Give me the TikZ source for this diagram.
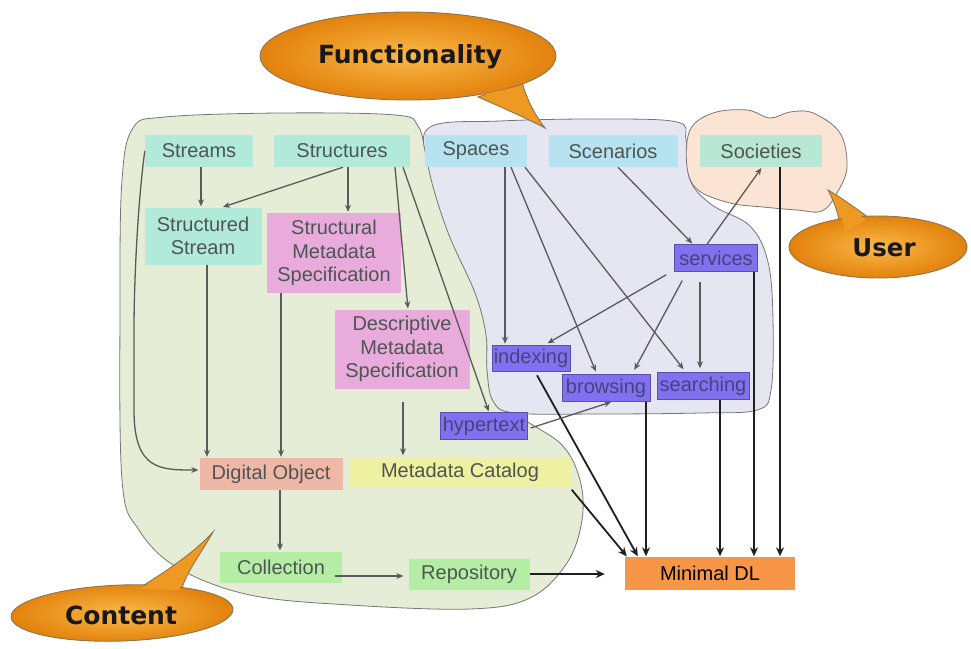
\documentclass[tikz,border=0pt]{standalone}
\usepackage{fontspec}
\setmainfont{Liberation Sans}
\newfontfamily\callfont{DejaVu Sans}
\usetikzlibrary{arrows.meta,calc}
\definecolor{greenblob}{HTML}{E5EDD6}
\definecolor{lavblob}{HTML}{E6E5F2}
\definecolor{peachblob}{HTML}{FCE4D4}
\definecolor{blobline}{HTML}{767676}
\definecolor{tealbox}{HTML}{B2EADA}
\definecolor{bluebox}{HTML}{B6E3EF}
\definecolor{socbox}{HTML}{B9E7D6}
\definecolor{pinkbox}{HTML}{E9AADC}
\definecolor{purplebox}{HTML}{8171F0}
\definecolor{salmonbox}{HTML}{EFB8A6}
\definecolor{yellowbox}{HTML}{EEF0A2}
\definecolor{greenbox}{HTML}{B4EEA4}
\definecolor{orangebox}{HTML}{F79646}
\definecolor{txtgray}{HTML}{4E5552}
\definecolor{txtpurple}{HTML}{44447A}
\definecolor{arrgray}{HTML}{5A5A5A}
\definecolor{callin}{HTML}{FBB848}
\definecolor{callout}{HTML}{E2820C}
\definecolor{calltail}{HTML}{EE9A22}
\definecolor{callline}{HTML}{8C7450}
\tikzset{
  bx/.style n args={2}{rectangle, inner sep=0pt, minimum width=#1pt, minimum height=#2pt,
    font=\fontsize{20}{23.5}\selectfont, text=txtgray, align=center},
  teal/.style={fill=tealbox},
  blue/.style={fill=bluebox},
  pink/.style={fill=pinkbox},
  purp/.style={fill=purplebox, text=txtpurple, draw=purplebox!70!black, line width=0.5pt},
  arr/.style={draw=arrgray, line width=1.3pt, -{Stealth[length=7pt,width=6pt]}, shorten >=1pt},
  barr/.style={draw=black!88, line width=1.8pt, -{Stealth[length=9pt,width=8pt]}},
  blob/.style={draw=blobline, line width=0.8pt},
  calltext/.style={font=\callfont\bfseries\fontsize{25}{29}\selectfont, text=black!90, inner sep=0pt},
  callshape/.style={inner color=callin, outer color=callout},
}
\begin{document}
\begin{tikzpicture}[x=1pt,y=-1pt]
\useasboundingbox (0,0) rectangle (971,648);
\fill[white] (0,0) rectangle (971,648);

% ---------- blobs ----------
\path[blob, fill=greenblob] plot[smooth cycle, tension=0.6] coordinates {
 (133,128) (165,117) (280,113) (395,115) (418,126) (428,160) (452,230) (484,295) (494,350)
 (498,395) (522,418) (562,445) (580,480) (582,520) (567,563) (530,598) (470,609) (350,605)
 (250,595) (178,568) (139,530) (122,480) (120,300) (122,180)};
\path[blob, fill=lavblob] plot[smooth cycle, tension=0.6] coordinates {
 (430,127) (500,121) (600,119) (677,122) (686,140) (690,180) (712,205) (750,226) (768,262)
 (773,320) (771,390) (757,410) (700,413) (600,414) (515,413) (493,401) (487,370) (486,335)
 (475,293) (447,230) (428,165)};
\path[blob, fill=peachblob] plot[smooth cycle, tension=0.6] coordinates {
 (690,130) (713,113) (747,110) (770,118) (790,112) (813,113) (840,133) (847,167) (837,193)
 (822,211) (797,210) (763,207) (730,203) (698,190) (687,167)};

% ---------- callouts ----------
% Functionality
\draw[callline, line width=0.9pt, fill=calltail] (478,97) .. controls (508,110) and (530,120) .. (545,128)
  .. controls (535,115) and (527,100) .. (522,82) -- cycle;
\shade[callshape, draw=callline, line width=0.9pt] (408,56) ellipse [x radius=148pt, y radius=44pt];
\fill[calltail] (484,94) .. controls (510,107) and (528,117) .. (540,123)
  .. controls (532,112) and (525,99) .. (521,86) -- cycle;
\node[calltext] (functxt) at (410,57) {Functionality};
% User
\draw[callline, line width=0.9pt, fill=calltail] (842,236) .. controls (840,220) and (836,205) .. (828,190)
  .. controls (845,200) and (858,210) .. (872,220) -- cycle;
\shade[callshape, draw=callline, line width=0.9pt] (878,247) ellipse [x radius=89pt, y radius=31pt];
\fill[calltail] (845,232) .. controls (843,220) and (839,207) .. (833,196)
  .. controls (846,205) and (856,212) .. (866,220) -- cycle;
\node[calltext, font=\callfont\bfseries\fontsize{24.5}{29}\selectfont] (usertxt) at (884,248) {User};
% Content
\draw[callline, line width=0.9pt, fill=calltail] (133,592) .. controls (160,575) and (192,555) .. (213,532)
  .. controls (200,555) and (186,572) .. (180,594) -- cycle;
\shade[callshape, draw=callline, line width=0.9pt] (122,613) ellipse [x radius=111pt, y radius=28pt, rotate=2];
\fill[calltail] (140,589) .. controls (165,574) and (192,557) .. (208,539)
  .. controls (196,557) and (186,572) .. (179,590) -- cycle;
\node[calltext] (conttxt) at (121,615) {Content};

% ---------- nodes ----------
\node[bx={108}{32}, teal] (streams) at (199,151) {Streams};
\node[bx={136}{32}, teal] (structures) at (342,151) {Structures};
\node[bx={102}{32}, blue] (spaces) at (476,151) {Spaces};
\node[bx={129}{32}, blue] (scenarios) at (613,151) {Scenarios};
\node[bx={122}{32}, fill=socbox] (societies) at (761,151) {Societies};
\node[bx={117}{57}, teal] (sstream) at (203,236) {Structured\\Stream};
\node[bx={134}{80}, pink] (smeta) at (334,253) {Structural\\Metadata\\Specification};
\node[bx={135}{79}, pink] (dmeta) at (402,349) {Descriptive\\Metadata\\Specification};
\node[bx={83}{27}, purp] (services) at (716,258) {services};
\node[bx={78}{26}, purp] (indexing) at (531,358) {indexing};
\node[bx={88}{27}, purp] (browsing) at (606,388) {browsing};
\node[bx={92}{27}, purp] (searching) at (703,386) {searching};
\node[bx={87}{27}, purp] (hyper) at (484,426) {hypertext};
\node[bx={143}{32}, fill=salmonbox] (dobj) at (271,474) {Digital Object};
\node[bx={221}{31}, fill=yellowbox] (mcat) at (460,472) {Metadata Catalog};
\node[bx={122}{31}, fill=greenbox] (coll) at (281,567) {Collection};
\node[bx={121}{31}, fill=greenbox] (repo) at (469,574) {Repository};
\node[bx={170}{33}, fill=orangebox, text=black] (mdl) at (710,573) {Minimal DL};

% ---------- connectors ----------
\draw[arr] (streams.south -| 201,0) -- (sstream.north -| 201,0);
\draw[arr] ([xshift=1pt]structures.south) -- ([xshift=19pt]sstream.north);
\draw[arr] (structures.south -| 348,0) -- (smeta.north -| 348,0);
\draw[arr] ([xshift=53pt]structures.south) -- (dmeta.north -| 408,0);
\draw[arr] ([xshift=61pt]structures.south) -- ([xshift=5pt]hyper.north);
\draw[arr] (streams.west) .. controls (138,200) and (134,280) .. (134,330) -- (134,410)
  .. controls (134,470) and (160,470) .. ([yshift=4pt]dobj.west);
\draw[arr] (sstream.south -| 207,0) -- (dobj.north -| 207,0);
\draw[arr] (smeta.south -| 281,0) -- (dobj.north -| 281,0);
\draw[arr, shorten <=13pt] (dmeta.south -| 403,0) -- (mcat.north -| 403,0);
\draw[arr] (dobj.south -| 280,0) -- (coll.north -| 280,0);
\draw[arr, shorten >=5pt] ([xshift=-7pt,yshift=-9pt]coll.east) -- ([yshift=-2pt]repo.west);
\draw[barr, shorten >=20pt] (repo.east) -- (repo.east -| mdl.west);
\draw[barr] ([xshift=1pt,yshift=-2pt]mcat.south east) -- ([xshift=2pt]mdl.north west);
\draw[barr] ([xshift=6pt,yshift=-4pt]indexing.south) -- ([xshift=13pt]mdl.north west);
\draw[barr] (browsing.south -| 646,0) -- (mdl.north -| 646,0);
\draw[barr] (searching.south -| 720,0) -- (mdl.north -| 720,0);
\draw[barr] (services.south -| 754,0) -- (mdl.north -| 754,0);
\draw[barr] (societies.south -| 780,0) -- (mdl.north -| 780,0);
\draw[arr] (spaces.south -| 505,0) -- (indexing.north -| 505,0);
\draw[arr, shorten >=3pt] (spaces.south -| 511,0) -- (browsing.north -| 597,0);
\draw[arr, shorten >=4pt] (spaces.south -| 525,0) -- (searching.north -| 686,0);
\draw[arr] (scenarios.south -| 618,0) -- (services.north -| 693,0);
\draw[arr] (services.north -| 707,0) -- (societies.south -| 762,0);
\draw[arr, shorten >=3pt] ([xshift=-8pt,yshift=-3pt]services.south west) -- (indexing.north -| 545,0);
\draw[arr, shorten <=10pt, shorten >=5pt] (services.south -| 687,0) -- (browsing.north -| 632,0);
\draw[arr, shorten <=10pt, shorten >=4pt] (services.south -| 700,0) -- (searching.north -| 700,0);
\draw[arr] ([xshift=3pt,yshift=-2pt]hyper.east) -- (browsing.south -| 612,0);
\end{tikzpicture}
\end{document}
